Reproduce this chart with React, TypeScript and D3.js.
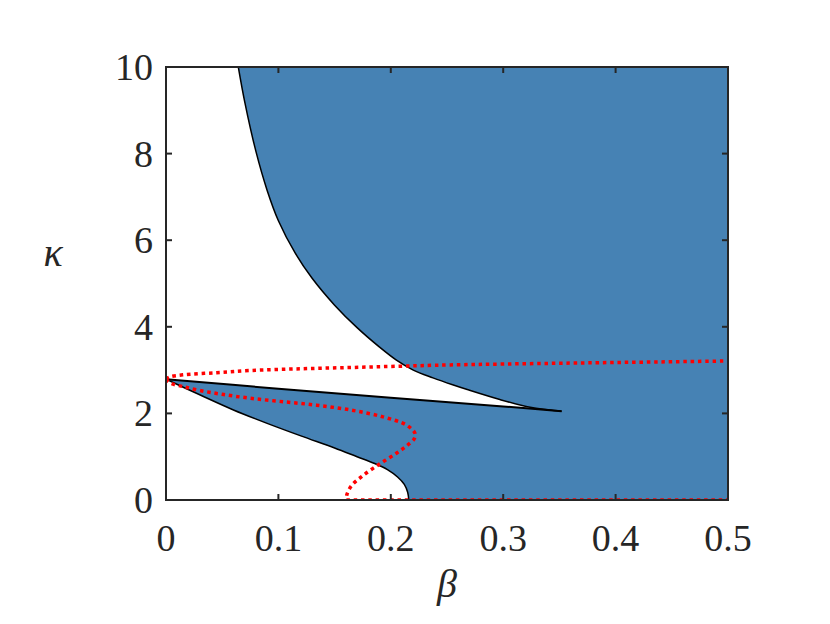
import React from "react";
import * as d3 from "d3";

// Upper boundary curve (from top edge down to the cusp tip)
const upperBeta = [0.063, 0.07, 0.08, 0.09, 0.10, 0.115, 0.13, 0.15, 0.17, 0.19, 0.205, 0.22, 0.2375, 0.255, 0.268, 0.297, 0.324, 0.34, 0.352];
const upperKappa = [10.2, 9.2, 8.05, 7.15, 6.45, 5.7, 5.12, 4.5, 3.98, 3.53, 3.23, 3.0, 2.82, 2.66, 2.55, 2.32, 2.14, 2.085, 2.05];

// Nearly straight boundary from the left axis to the cusp tip
const lineBeta = [0, 0.1, 0.2, 0.3, 0.352];
const lineKappa = [2.79, 2.57, 2.36, 2.16, 2.05];

// Lower boundary curve (left axis down to the bottom axis)
const lowerBeta = [0, 0.03, 0.06, 0.09, 0.12, 0.15, 0.17, 0.185, 0.197, 0.206, 0.212, 0.215, 0.216];
const lowerKappa = [2.79, 2.43, 2.08, 1.77, 1.48, 1.2, 1.0, 0.85, 0.7, 0.53, 0.36, 0.18, 0];

// Red dotted curve 1 (rising to the right)
const red1Beta = [0, 0.003, 0.015, 0.045, 0.075, 0.119, 0.164, 0.208, 0.253, 0.356, 0.5];
const red1Kappa = [2.79, 2.84, 2.89, 2.94, 2.99, 3.03, 3.06, 3.09, 3.12, 3.16, 3.21];

// Red dotted curve 2 (S-shaped, ending on the bottom axis)
const red2Beta = [0, 0.004, 0.015, 0.03, 0.05, 0.075, 0.104, 0.134, 0.164, 0.193, 0.214, 0.2215, 0.221, 0.215, 0.205, 0.19, 0.175, 0.165, 0.161, 0.1605];
const red2Kappa = [2.79, 2.70, 2.62, 2.53, 2.44, 2.35, 2.27, 2.19, 2.08, 1.92, 1.73, 1.54, 1.42, 1.27, 1.08, 0.83, 0.56, 0.33, 0.13, 0.02];
const red2BottomBeta = [0.1605, 0.5];
const red2BottomKappa = [0.02, 0.02];

const xTicks = [0, 0.1, 0.2, 0.3, 0.4, 0.5];
const yTicks = [0, 2, 4, 6, 8, 10];

const W = 830, H = 624;
const L = 166, R = 728, T = 67, B = 500;

export default function App() {
  const x = d3.scaleLinear().domain([0, 0.5]).range([L, R]);
  const y = d3.scaleLinear().domain([0, 10]).range([B, T]);
  const zip = (a: number[], b: number[]) => a.map((v, i) => [v, b[i]] as [number, number]);
  const smooth = d3.line<[number, number]>().x(d => x(d[0])).y(d => y(d[1])).curve(d3.curveCatmullRom.alpha(0.5));
  const straight = d3.line<[number, number]>().x(d => x(d[0])).y(d => y(d[1]));

  const upper = zip(upperBeta, upperKappa);
  const lin = zip(lineBeta, lineKappa);
  const lower = zip(lowerBeta, lowerKappa);

  const upperPath = smooth(upper) as string;
  const linePath = smooth(lin) as string;
  const lowerPath = smooth(lower) as string;
  const lineRev = (smooth([...lin].reverse()) as string).replace(/^M/, "L");

  const whiteA = `M${x(0)},${y(10.5)}L${x(upperBeta[0])},${y(10.5)}` + upperPath.replace(/^M/, "L") + lineRev + "Z";
  const whiteB = `M${x(0)},${y(0)}` + lowerPath.replace(/^M/, "L") + "Z";

  const red1 = smooth(zip(red1Beta, red1Kappa)) as string;
  const red2 = smooth(zip(red2Beta, red2Kappa)) as string;
  const red2b = straight(zip(red2BottomBeta, red2BottomKappa)) as string;

  const axisColor = "#262626";
  const font = "Liberation Serif, Times New Roman, Times, serif";
  const tickLen = 6;

  return (
    <svg width={W} height={H} style={{ position: "absolute", left: 0, top: 0, background: "#fff" }}>
      <defs>
        <clipPath id="plot">
          <rect x={L} y={T} width={R - L} height={B - T} />
        </clipPath>
      </defs>
      <g clipPath="url(#plot)">
        <rect x={L} y={T} width={R - L} height={B - T} fill="#4682B4" />
        <path d={whiteA} fill="#fff" />
        <path d={whiteB} fill="#fff" />
        <path d={upperPath} fill="none" stroke="#000" strokeWidth={1.5} />
        <path d={linePath} fill="none" stroke="#000" strokeWidth={2} />
        <path d={lowerPath} fill="none" stroke="#000" strokeWidth={1.5} />
        <path d={red1} fill="none" stroke="#ff0000" strokeWidth={3.5} strokeDasharray="3.5 3.8" />
        <path d={red2} fill="none" stroke="#ff0000" strokeWidth={3.5} strokeDasharray="3.5 3.8" />
        <path d={red2b} fill="none" stroke="#ff0000" strokeWidth={1.8} strokeDasharray="3.5 3.8" />
      </g>
      {xTicks.map(t => (
        <g key={"xt" + t}>
          <line x1={x(t)} x2={x(t)} y1={B} y2={B - tickLen} stroke={axisColor} strokeWidth={2} />
          <line x1={x(t)} x2={x(t)} y1={T} y2={T + tickLen} stroke={axisColor} strokeWidth={2} />
          <text x={x(t)} y={551} textAnchor="middle" style={{ fontFamily: font }} fontSize={38} fill="#262626">{String(t)}</text>
        </g>
      ))}
      {yTicks.map(t => (
        <g key={"yt" + t}>
          <line x1={L} x2={L + tickLen} y1={y(t)} y2={y(t)} stroke={axisColor} strokeWidth={2} />
          <line x1={R} x2={R - tickLen} y1={y(t)} y2={y(t)} stroke={axisColor} strokeWidth={2} />
          <text x={153} y={y(t) + 13} textAnchor="end" style={{ fontFamily: font }} fontSize={38} fill="#262626">{String(t)}</text>
        </g>
      ))}
      <rect x={L} y={T} width={R - L} height={B - T} fill="none" stroke={axisColor} strokeWidth={2} />
      <text x={53} y={266} textAnchor="middle" style={{ fontFamily: font }} fontStyle="italic" fontSize={40} fill="#262626">κ</text>
      <text x={447} y={597} textAnchor="middle" style={{ fontFamily: font }} fontStyle="italic" fontSize={40} fill="#262626">β</text>
    </svg>
  );
}
